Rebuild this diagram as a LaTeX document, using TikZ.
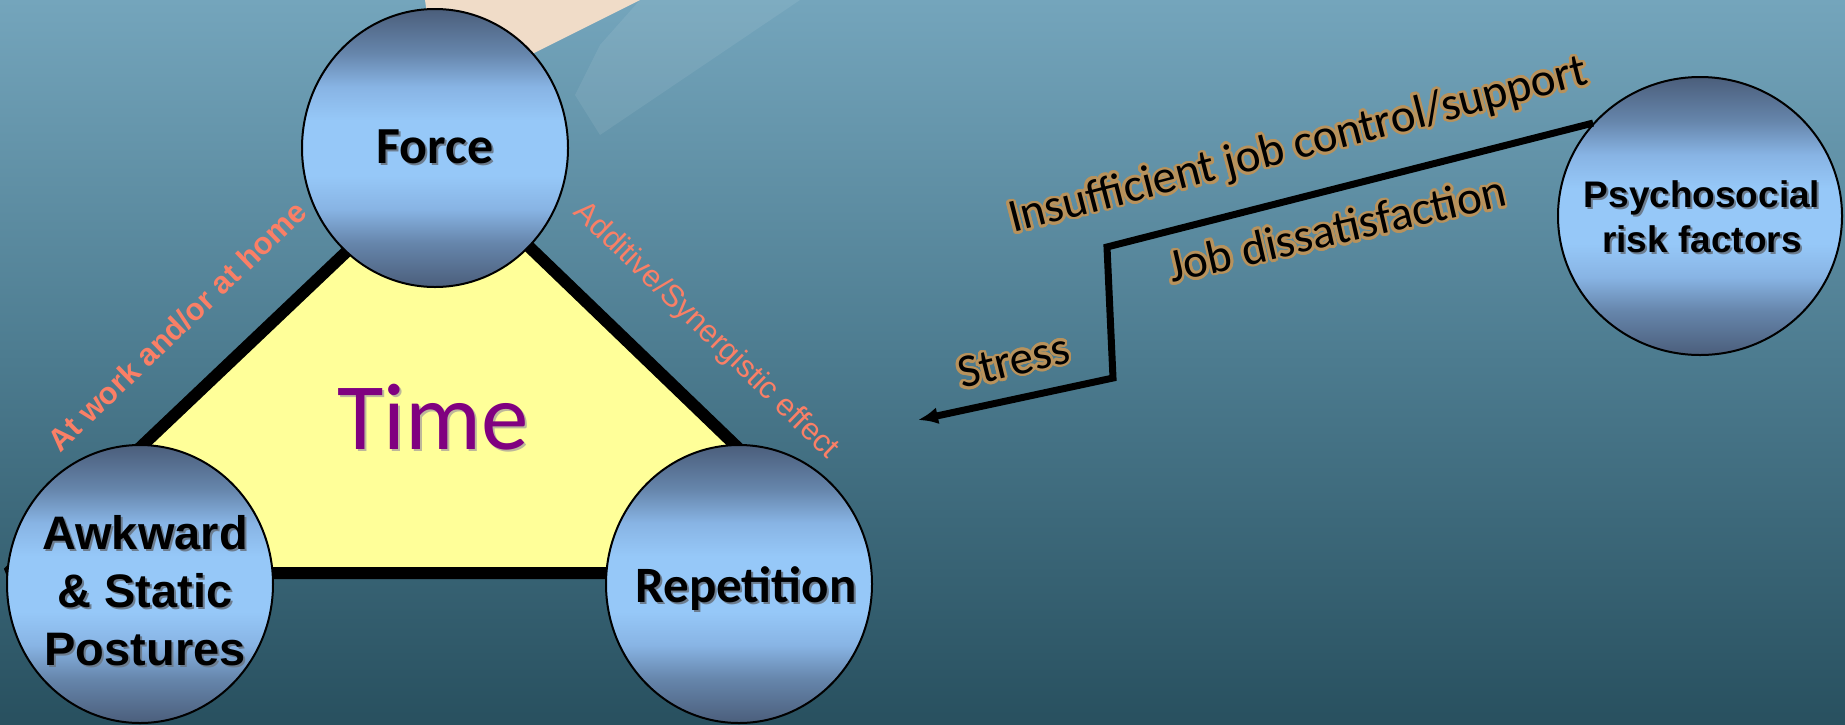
\documentclass[tikz,border=0pt]{standalone}
\usepackage{fontspec}
\setmainfont{Liberation Sans}
\newfontfamily\calib{Carlito}
\newfontfamily\arialf{Liberation Sans}
\usepackage{contour}
\contourlength{2.6pt}
\contournumber{24}
\usetikzlibrary{shapes.geometric,arrows.meta}
\definecolor{bgtop}{HTML}{74A5BC}
\definecolor{bgmid}{HTML}{4C7B8F}
\definecolor{bgbot}{HTML}{28505F}
\definecolor{ballD}{HTML}{4B5E7B}
\definecolor{ballM}{HTML}{6686AC}
\definecolor{ballN}{HTML}{88B4E4}
\definecolor{ballL}{HTML}{96C8F8}
\definecolor{triyel}{HTML}{FFFF99}
\definecolor{salmonc}{HTML}{FA7F66}
\definecolor{timec}{HTML}{800080}
\definecolor{glowc}{HTML}{B8925C}
\definecolor{peach}{HTML}{F0DCC8}
\definecolor{shdc}{HTML}{6C7C8E}
\definecolor{tshdc}{HTML}{BDB79A}
\pgfdeclareverticalshading{ballshade}{100bp}{color(0bp)=(ballD); color(25bp)=(ballD); color(33bp)=(ballM); color(39bp)=(ballN); color(45bp)=(ballL); color(55bp)=(ballL); color(61bp)=(ballN); color(67bp)=(ballM); color(75bp)=(ballD); color(100bp)=(ballD)}
\newcommand\shd[2][shdc]{\rlap{\kern2pt\raisebox{-2pt}{\textcolor{#1}{#2}}}#2}
\begin{document}
\begin{tikzpicture}[x=1pt,y=-1pt,
  ball/.style={ellipse, draw=black, line width=2pt, shade, shading=ballshade, minimum width=266pt, minimum height=278pt, inner sep=0pt},
  calbold/.style={font=\calib\bfseries\fontsize{52}{60}\selectfont, text=black, inner sep=0pt},
  arbold/.style={font=\arialf\bfseries\fontsize{#1}{#1*1.23}\selectfont, text=black, align=center, inner sep=0pt},
  sidelabel/.style={text=salmonc, inner sep=0pt},
  glowtxt/.style={font=\calib\fontsize{47}{56}\selectfont, anchor=base west, inner sep=0pt, text=black},
  triedge/.style={draw=black, line width=12pt, line join=bevel, fill=triyel}
]
\useasboundingbox (0,0) rectangle (1845,724);
% background
\fill[top color=bgtop, bottom color=bgbot, middle color=bgmid] (0,0) rectangle (1845,724);
\fill[peach] (425,0) -- (640,0) -- (532,54) -- (440,105) -- cycle;
\fill[white, opacity=0.08] (640,0) -- (800,0) -- (600,135) -- (575,95) -- (600,45) -- cycle;
% triangle
\coordinate (tA) at (8,573);
\coordinate (tB) at (868,573);
\coordinate (tC) at (441,162);
\path[triedge] (tA) -- (tB) -- (tC) -- cycle;
% circles
\node[ball] (force) at (435,148) {};
\node[ball] (awk) at (140,584) {};
\node[ball] (rep) at (739,584) {};
\node[ball, minimum width=284pt] (psy) at (1700,216) {};
% circle texts
\node[calbold] (forcet) at (force.center) {\shd{Force}};
\node[calbold, font=\calib\bfseries\fontsize{51}{60}\selectfont] (rept) at (746,590) {\shd{Repetition}};
\node[arbold=47, font=\arialf\bfseries\fontsize{47}{58}\selectfont] (awkt) at (145,592) {\shd{Awkward}\\\shd{\& Static}\\\shd{Postures}};
\node[arbold=37, font=\arialf\bfseries\fontsize{37}{45}\selectfont] (psyt) at (1702,218) {\shd{Psychosocial}\\\shd{risk factors}};
% Time
\node[font=\calib\fontsize{95}{100}\selectfont, text=timec, inner sep=0pt] (time) at (433,418) {\shd[tshdc]{Time}};
% side labels
\node[sidelabel, rotate=44, font=\arialf\bfseries\fontsize{31}{36}\selectfont] (lwork) at (177,326) {At work and/or at home};
\node[sidelabel, rotate=-44, font=\arialf\fontsize{31}{36}\selectfont] (ladd) at (706,331) {Additive/Synergistic effect};
% psychosocial path
\coordinate (k1) at (1107,247);
\coordinate (k2) at (1113,378);
\coordinate (tip) at (918,420);
\draw[line width=7pt, line join=miter, -{Latex[length=20pt,width=17pt]}] (psy.139) -- (k1) -- (k2) -- (tip);
\node[glowtxt, rotate=14.5] (ins) at (1013,233) {\contour{glowc}{Insufficient job control/support}};
\node[glowtxt, rotate=13] (job) at (1172,283) {\contour{glowc}{Job dissatisfaction}};
\node[glowtxt, rotate=14] (str) at (962,389) {\contour{glowc}{Stress}};
\end{tikzpicture}
\end{document}
